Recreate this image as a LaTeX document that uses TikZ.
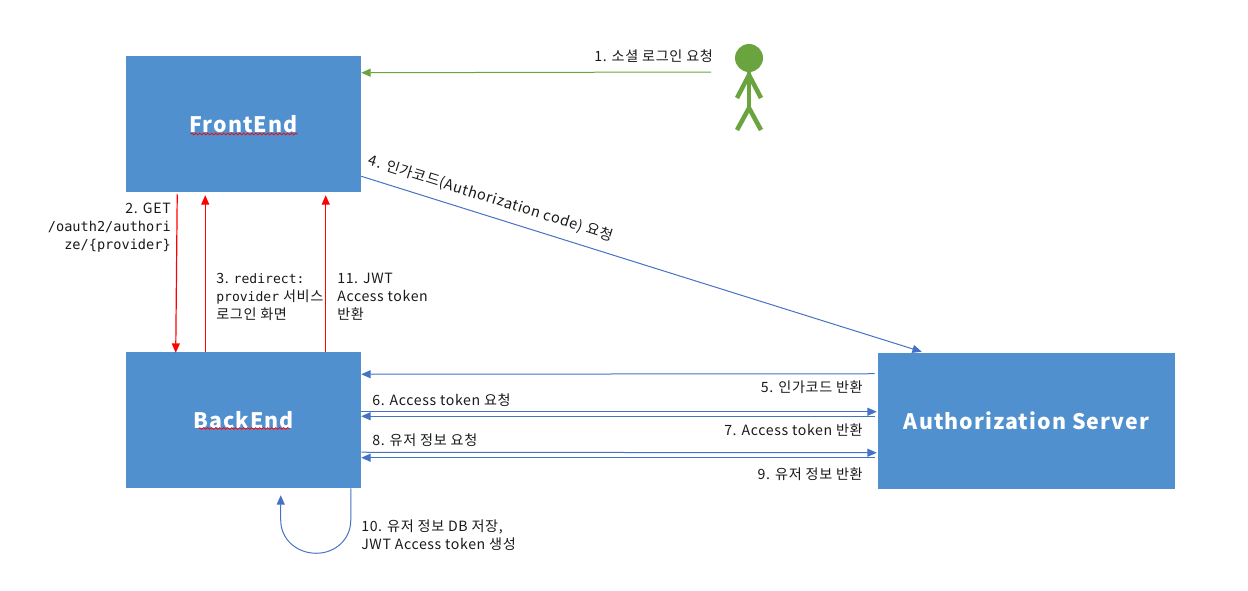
\documentclass[tikz,border=0pt]{standalone}
\usepackage{fontspec}
\setmainfont{Noto Sans CJK KR}[LetterSpace=4.5]
\newfontfamily\titlefont{Noto Sans CJK KR}[LetterSpace=5]
\newfontfamily\codefont{DejaVu Sans Mono}
\usetikzlibrary{arrows.meta,calc,decorations.pathmorphing}
\definecolor{boxblue}{HTML}{5090CF}
\definecolor{linkblue}{HTML}{4472C4}
\definecolor{actgreen}{HTML}{6AA43F}
\newcommand{\codeA}[1]{{\codefont\fontsize{10.2pt}{13.4pt}\selectfont #1}}
\newcommand{\codeB}[1]{{\codefont\fontsize{9.8pt}{13.4pt}\selectfont #1}}
\tikzset{
  every node/.style={font=\fontsize{10.6pt}{13.4pt}\selectfont,text=black!90},
  boxnode/.style={fill=boxblue,draw=none,inner sep=0pt,font=\titlefont\fontsize{16pt}{18pt}\selectfont\bfseries,text=white},
  lab/.style={inner sep=0pt,align=left,anchor=west},
  labr/.style={inner sep=0pt,align=right,anchor=east},
  tip/.style={-{Triangle[length=7pt,width=6pt]}},
  bluearrow/.style={tip,draw=linkblue,line width=0.75pt},
  redarrow/.style={tip,draw=red,line width=0.9pt},
  greenarrow/.style={tip,draw=actgreen,line width=0.75pt},
  squiggle/.style={draw=red,line width=0.55pt,decorate,decoration={snake,amplitude=0.6pt,segment length=3pt}},
  limb/.style={draw=actgreen,line width=3.4pt}
}
\begin{document}
\begin{tikzpicture}[x=0.75pt,y=-0.75pt]
\useasboundingbox (0,0) rectangle (1248,590);
\node[boxnode,minimum width=176.25pt,minimum height=102pt] (fe) at (243.5,124) {FrontEnd};
\node[boxnode,minimum width=176.25pt,minimum height=102pt] (be) at (243.5,420) {BackEnd};
\node[boxnode,minimum width=222.75pt,minimum height=102pt] (as) at (1026.5,421) {Authorization Server};
\draw[squiggle] ($(fe.center)+(-53,10)$) -- ($(fe.center)+(54,10)$);
\draw[squiggle] ($(be.center)+(-45,8.5)$) -- ($(be.center)+(46,8.5)$);
% person
\fill[actgreen] (749,58) circle (10.5pt);
\coordinate (neck) at (749,70);
\coordinate (hip) at (749,108);
\coordinate (shoulder) at (749,75);
\draw[limb] (neck) -- (hip);
\draw[limb] (737,98) -- (shoulder) -- (761,98);
\draw[limb] (737,130) -- (hip) -- (761,130);
% connectors
\draw[greenarrow] (711,72) -- ($(fe.north east)+(0,17)$);
\draw[redarrow] ($(fe.south west)+(51.5,2)$) -- ($(be.north west)+(50,1)$);
\draw[redarrow] ($(be.north west)+(79.5,0)$) -- ($(fe.south west)+(79.5,3)$);
\draw[redarrow] ($(be.north west)+(200,0)$) -- ($(fe.south west)+(200,3)$);
\draw[bluearrow] ($(fe.south east)+(0,-16)$) -- ($(as.north west)+(44,-1)$);
\draw[bluearrow] ($(as.north west)+(-3,21)$) -- ($(be.north east)+(0,22.5)$);
\draw[bluearrow] ($(be.north east)+(0,60)$) -- ($(as.north west)+(-1,59)$);
\draw[bluearrow] ($(as.north west)+(-3,63.5)$) -- ($(be.north east)+(0,64.5)$);
\draw[bluearrow] ($(be.north east)+(0,100.5)$) -- ($(as.north west)+(-1,100)$);
\draw[bluearrow] ($(as.north west)+(-3,105)$) -- ($(be.north east)+(0,106)$);
\draw[bluearrow] ($(be.south east)+(-10.5,0)$) -- ($(be.south east)+(-10.5,32)$)
  .. controls ($(be.south east)+(-10.5,51)$) and ($(be.south east)+(-26,65)$) .. ($(be.south east)+(-45,65)$)
  .. controls ($(be.south west)+(171,65)$) and ($(be.south west)+(155,51)$) .. ($(be.south west)+(155,32)$)
  -- ($(be.south west)+(155,7)$);
% labels
\node[lab] (t1) at (594,56) {1. 소셜 로그인 요청};
\node[labr] (t2) at (171,228) {2. GET\\\codeA{/oauth2/authori}\\\codeA{ze/\{provider\}}};
\node[lab] (t3) at (216,297) {3. \codeB{redirect:}\\\codeB{provider} 서비스\\로그인 화면};
\node[lab] (t11) at (337,297) {11. JWT\\Access token\\반환};
\node[inner sep=0pt,rotate=-17.4,font=\fontsize{10.9pt}{13.4pt}\selectfont] (t4) at (491,198.5) {4. 인가코드(Authorization code) 요청};
\node[labr] (t5) at (863,387) {5. 인가코드 반환};
\node[lab] (t6) at (372,400.5) {6. Access token 요청};
\node[labr] (t7) at (863,430) {7. Access token 반환};
\node[lab] (t8) at (372,440) {8. 유저 정보 요청};
\node[labr] (t9) at (863,474) {9. 유저 정보 반환};
\node[lab] (t10) at (361,535) {10. 유저 정보 DB 저장,\\JWT Access token 생성};
\end{tikzpicture}
\end{document}
